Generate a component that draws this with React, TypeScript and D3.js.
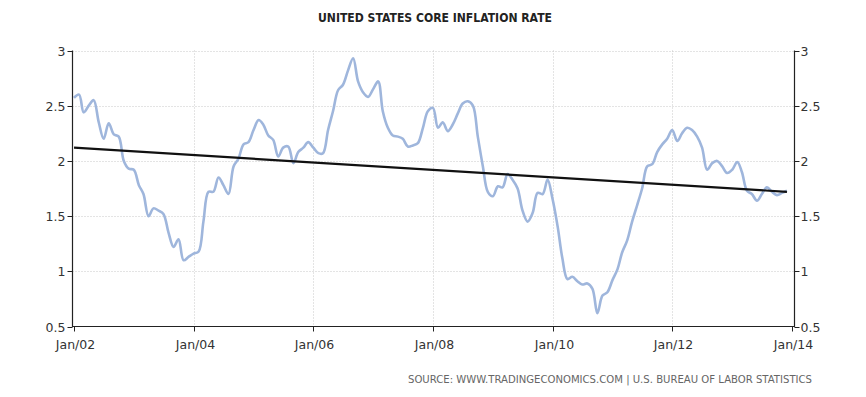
import React, {Component} from "react";
import * as d3 from "d3";

// monthly core CPI, YoY %, Jan 2002 .. Dec 2013 (one array per year)
const y2002 = [2.57, 2.60, 2.44, 2.50, 2.55, 2.35, 2.20, 2.34, 2.24, 2.22, 2.00, 1.93];
const y2003 = [1.92, 1.78, 1.70, 1.50, 1.57, 1.55, 1.52, 1.35, 1.22, 1.29, 1.10, 1.13];
const y2004 = [1.16, 1.18, 1.45, 1.72, 1.72, 1.85, 1.78, 1.70, 1.95, 2.02, 2.15, 2.17];
const y2005 = [2.28, 2.37, 2.33, 2.23, 2.19, 2.04, 2.12, 2.13, 1.98, 2.08, 2.12, 2.17];
const y2006 = [2.12, 2.07, 2.07, 2.28, 2.45, 2.64, 2.69, 2.82, 2.93, 2.72, 2.62, 2.58];
const y2007 = [2.65, 2.72, 2.45, 2.30, 2.23, 2.22, 2.20, 2.13, 2.14, 2.16, 2.30, 2.45];
const y2008 = [2.48, 2.30, 2.35, 2.27, 2.33, 2.43, 2.52, 2.54, 2.50, 2.22, 1.95, 1.72];
const y2009 = [1.68, 1.77, 1.76, 1.88, 1.83, 1.75, 1.55, 1.45, 1.53, 1.71, 1.70, 1.83];
const y2010 = [1.65, 1.40, 1.12, 0.93, 0.95, 0.91, 0.88, 0.89, 0.84, 0.62, 0.78, 0.81];
const y2011 = [0.92, 1.02, 1.17, 1.28, 1.45, 1.60, 1.75, 1.95, 1.97, 2.08, 2.15, 2.20];
const y2012 = [2.28, 2.18, 2.25, 2.30, 2.28, 2.22, 2.12, 1.92, 1.98, 2.00, 1.95, 1.89];
const y2013 = [1.92, 1.99, 1.90, 1.73, 1.70, 1.64, 1.70, 1.76, 1.72, 1.69, 1.71, 1.73];

const years = [y2002, y2003, y2004, y2005, y2006, y2007, y2008, y2009, y2010, y2011, y2012, y2013];
const startYear = 2002;

// trend line: value at first and last month
const trendValues = [2.12, 1.72];

const yTicks = [0.5, 1, 1.5, 2, 2.5, 3];
const xTickYears = [2002, 2004, 2006, 2008, 2010, 2012, 2014];

const title = "UNITED STATES CORE INFLATION RATE";
const source = "SOURCE: WWW.TRADINGECONOMICS.COM  |  U.S. BUREAU OF LABOR STATISTICS";

class App extends Component
{
    svgRef = React.createRef();

    componentDidMount()
    {
        this.renderChart();
    }

    renderChart()
    {
        const data = [];
        years.forEach((vals, yi) =>
        {
            vals.forEach((v, mi) => data.push({date: new Date(startYear + yi, mi, 1), value: v}));
        });

        const left = 72.5;
        const right = 794.5;
        const top = 50.5;
        const bottom = 326.5;
        const font = "'DejaVu Sans', Verdana, sans-serif";

        const svg = d3.select(this.svgRef.current);
        svg.selectAll("*").remove();

        const x = d3
            .scaleTime()
            .domain([new Date(2002, 0, 1), new Date(2014, 0, 1)])
            .range([74, 792]);

        const y = d3
            .scaleLinear()
            .domain([0.5, 3])
            .range([bottom, top]);

        svg.append("rect")
            .attr("width", 866)
            .attr("height", 397)
            .attr("fill", "#fff");

        // grid
        svg.append("g")
            .selectAll("line")
            .data(yTicks.filter((t) => t > 0.5))
            .enter()
            .append("line")
            .attr("x1", left)
            .attr("x2", right)
            .attr("y1", (d) => Math.round(y(d)) + 0.5)
            .attr("y2", (d) => Math.round(y(d)) + 0.5)
            .attr("stroke", "#c8c8c8")
            .attr("stroke-dasharray", "1,2");

        svg.append("g")
            .selectAll("line")
            .data(xTickYears.slice(1, -1))
            .enter()
            .append("line")
            .attr("x1", (d) => Math.round(x(new Date(d, 0, 1))) + 0.5)
            .attr("x2", (d) => Math.round(x(new Date(d, 0, 1))) + 0.5)
            .attr("y1", top)
            .attr("y2", bottom)
            .attr("stroke", "#c8c8c8")
            .attr("stroke-dasharray", "1,2");

        // series
        const line = d3
            .line()
            .x((d) => x(d.date))
            .y((d) => y(d.value))
            .curve(d3.curveCatmullRom.alpha(0.5));

        svg.append("path")
            .datum(data)
            .attr("d", line)
            .attr("fill", "none")
            .attr("stroke", "#9fb6dc")
            .attr("stroke-width", 2.6)
            .attr("stroke-linejoin", "round");

        const first = data[0].date;
        const last = data[data.length - 1].date;
        svg.append("line")
            .attr("x1", x(first))
            .attr("x2", x(last))
            .attr("y1", y(trendValues[0]))
            .attr("y2", y(trendValues[1]))
            .attr("stroke", "#111")
            .attr("stroke-width", 2.2);

        // axes
        const axisColor = "#222";
        svg.append("path")
            .attr("d", `M${left},${top}V${bottom}H${right}V${top}`)
            .attr("fill", "none")
            .attr("stroke", axisColor)
            .attr("stroke-width", 1.2);

        yTicks.forEach((t) =>
        {
            const py = Math.round(y(t)) + 0.5;
            svg.append("line").attr("x1", left - 5).attr("x2", left).attr("y1", py).attr("y2", py).attr("stroke", axisColor);
            svg.append("line").attr("x1", right).attr("x2", right + 5).attr("y1", py).attr("y2", py).attr("stroke", axisColor);
            svg.append("text")
                .attr("x", left - 7)
                .attr("y", py + 4.5)
                .attr("text-anchor", "end")
                .style("font-family", font)
                .style("font-size", "12.5px")
                .attr("fill", "#333")
                .text(t);
            svg.append("text")
                .attr("x", right + 6)
                .attr("y", py + 4.5)
                .attr("text-anchor", "start")
                .style("font-family", font)
                .style("font-size", "12.5px")
                .attr("fill", "#333")
                .text(t);
        });

        xTickYears.forEach((yr) =>
        {
            const px = Math.round(x(new Date(yr, 0, 1))) + 0.5;
            svg.append("line").attr("x1", px).attr("x2", px).attr("y1", bottom).attr("y2", bottom + 5).attr("stroke", axisColor);
            svg.append("text")
                .attr("x", px + 1)
                .attr("y", bottom + 22)
                .attr("text-anchor", "middle")
                .style("font-family", font)
                .style("font-size", "12.5px")
                .attr("fill", "#333")
                .text("Jan/" + String(yr % 100).padStart(2, "0"));
        });

        svg.append("text")
            .attr("x", 435)
            .attr("y", 22)
            .attr("text-anchor", "middle")
            .attr("textLength", 234)
            .attr("lengthAdjust", "spacingAndGlyphs")
            .style("font-family", font)
            .style("font-size", "12px")
            .style("font-weight", "bold")
            .attr("fill", "#222")
            .text(title);

        svg.append("text")
            .attr("x", 408)
            .attr("y", 383)
            .attr("textLength", 404)
            .attr("lengthAdjust", "spacingAndGlyphs")
            .style("font-family", font)
            .style("font-size", "10px")
            .attr("fill", "#666")
            .text(source);
    }

    render()
    {
        return (
            <svg ref={this.svgRef} width={866} height={397}
                style={{position: "absolute", left: 0, top: 0, display: "block"}}></svg>
        );
    }
}

export default App;
